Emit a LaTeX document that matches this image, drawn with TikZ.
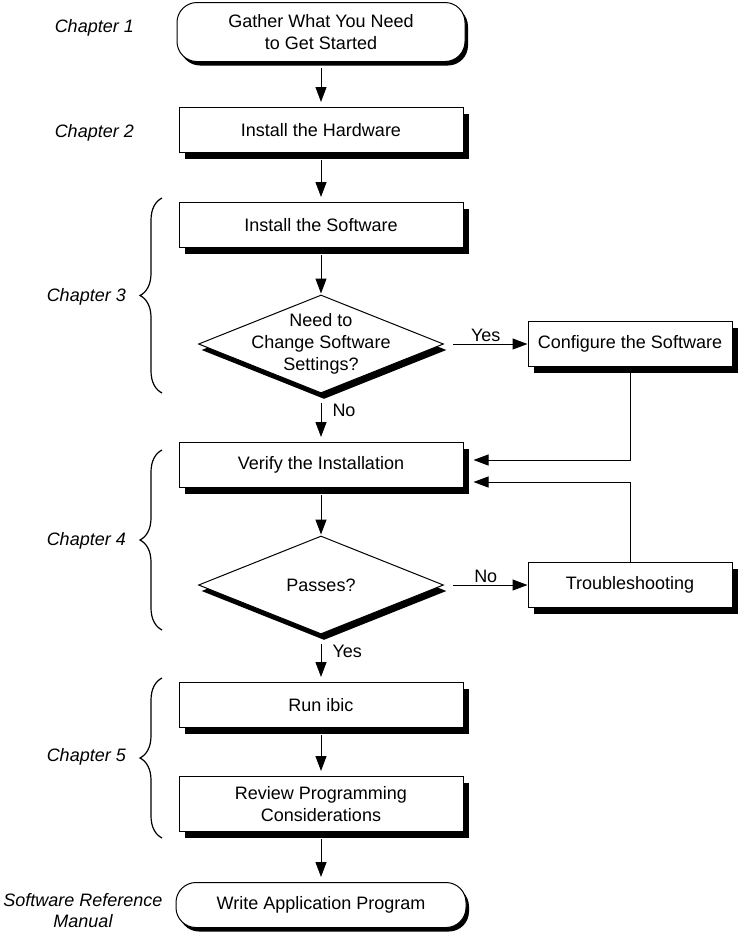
\documentclass[tikz,border=0pt]{standalone}
\usepackage{fontspec}
\setmainfont{Liberation Sans}
\usetikzlibrary{arrows.meta, calc, shapes.geometric, shadows, decorations.pathreplacing}

\begin{document}
\begin{tikzpicture}[x=1pt, y=-1pt,
    txt/.style={font=\fontsize{18}{22}\selectfont, align=center},
    lbl/.style={txt, inner sep=2pt},
    chap/.style={font=\fontsize{18}{21}\selectfont\itshape, align=center, inner sep=0pt},
    stepbox/.style={txt, draw, fill=white, line width=1pt, minimum width=284pt,
        minimum height=45pt, inner sep=0pt,
        drop shadow={shadow xshift=6pt, shadow yshift=-6pt, fill=black, opacity=1}},
    terminal/.style={txt, draw, fill=white, line width=1pt, rounded corners=20pt,
        minimum width=288pt, minimum height=45pt, inner sep=0pt,
        drop shadow={shadow xshift=3pt, shadow yshift=-4pt, fill=black, opacity=1}},
    decision/.style={diamond, draw, fill=white, line width=1pt, minimum width=245pt,
        minimum height=98pt, inner sep=0pt,
        drop shadow={shadow xshift=3pt, shadow yshift=-6pt, fill=black, opacity=1}},
    flow/.style={-{Triangle[length=15pt, width=11pt]}, line width=1pt},
    chbrace/.style={decorate, decoration={brace, amplitude=22pt}, line width=1.2pt}]

\path[use as bounding box, fill=white] (0,0) rectangle (742,940);

% Main column
\node[terminal, minimum height=59pt] (gather) at (321,32) {Gather What You Need\\to Get Started};
\node[stepbox] (hw) at (321,130) {Install the Hardware};
\node[stepbox] (sw) at (321,225) {Install the Software};
\node[decision, label={[txt]center:Need to\\Change Software\\Settings?}] (chg) at (321,344) {};
\node[stepbox] (ver) at (321,465) {Verify the Installation};
\node[decision, label={[txt]center:Passes?}] (pass) at (321,585) {};
\node[stepbox] (run) at (321,705) {Run ibic};
\node[stepbox, minimum height=55pt] (rev) at (321,804) {Review Programming\\Considerations};
\node[terminal, minimum width=290pt] (app) at (321,905) {Write Application Program};

% Side boxes
\node[stepbox, minimum width=204pt] (cfg) at (630,344) {Configure the Software};
\node[stepbox, minimum width=204pt] (trb) at (630,585) {Troubleshooting};

% Arrows down the column
\draw[flow, shorten <=6pt, shorten >=5pt] (gather) -- (hw);
\draw[flow, shorten <=7pt, shorten >=5pt] (hw) -- (sw);
\draw[flow, shorten <=7pt, shorten >=1pt] (sw) -- (chg);
\draw[flow, shorten <=9pt, shorten >=5pt] (chg) -- node[lbl, pos=0.35, right=9pt] (nochg) {No} (ver);
\draw[flow, shorten <=7pt, shorten >=1pt] (ver) -- (pass);
\draw[flow, shorten <=9pt, shorten >=5pt] (pass) -- node[lbl, pos=0.35, right=9pt] (yespass) {Yes} (run);
\draw[flow, shorten <=7pt, shorten >=5pt] (run) -- (rev);
\draw[flow, shorten <=7pt, shorten >=5pt] (rev) -- (app);

% Branches
\draw[flow, shorten <=9pt] (chg) -- node[lbl, above] (yeschg) {Yes} (cfg);
\draw[flow, shorten <=9pt] (pass) -- node[lbl, above] (nopass) {No} (trb);

% Back to verify
\coordinate (inA) at ($(ver.east)+(10,-5)$);
\coordinate (inB) at ($(ver.east)+(10,17)$);
\draw[flow] (cfg.south) |- (inA);
\draw[flow] (trb.north) |- (inB);

% Chapters
\node[chap, anchor=east] (ch1) at (134,28) {Chapter 1};
\node[chap, anchor=east] (ch2) at (134,133) {Chapter 2};
\node[chap, anchor=east] (ch3) at (126,297) {Chapter 3};
\node[chap, anchor=east] (ch4) at (126,541) {Chapter 4};
\node[chap, anchor=east] (ch5) at (126,757) {Chapter 5};
\node[chap] (man) at (83,911) {Software Reference\\Manual};

\draw[chbrace] (162,393) -- (162,198);
\draw[chbrace] (162,630) -- (162,450);
\draw[chbrace] (162,838) -- (162,678);

\end{tikzpicture}
\end{document}
